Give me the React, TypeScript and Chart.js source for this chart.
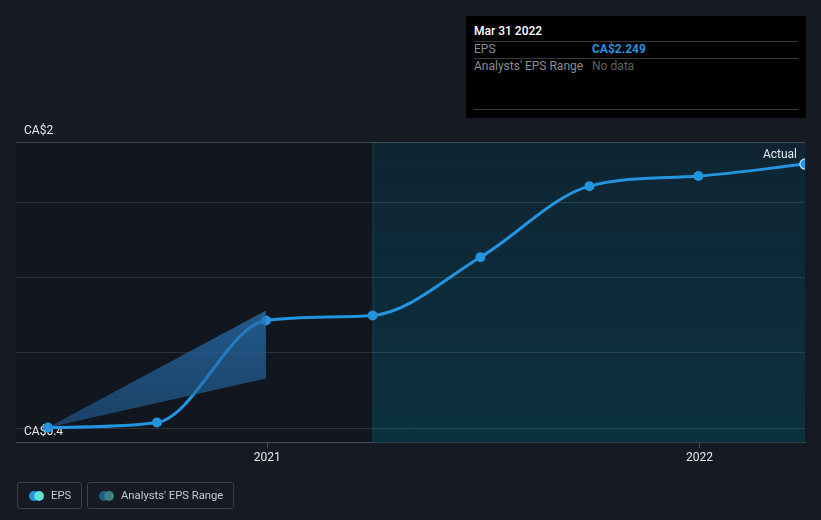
import React, { useEffect, useRef } from "react";
import { Chart, registerables } from "chart.js";

Chart.register(...registerables);

// ---- data ----
const epsDates = [
  Date.UTC(2020, 5, 30),
  Date.UTC(2020, 8, 30),
  Date.UTC(2020, 11, 31),
  Date.UTC(2021, 2, 31),
  Date.UTC(2021, 5, 30),
  Date.UTC(2021, 8, 30),
  Date.UTC(2021, 11, 31),
  Date.UTC(2022, 2, 31),
];
const epsValues = [0.4, 0.435, 1.152, 1.187, 1.595, 2.094, 2.165, 2.249];

const rangeDates = [Date.UTC(2020, 5, 30), Date.UTC(2020, 11, 31)];
const rangeHigh = [0.4, 1.222];
const rangeLow = [0.4, 0.745];

const xTickDates = [Date.UTC(2021, 0, 1), Date.UTC(2022, 0, 1)];
const xTickLabels = ["2021", "2022"];
const yGridValues = [0.4, 0.927, 1.455, 1.982];
const yAxisLabels = ["CA$2", "CA$0.4"];

const xMin = Date.UTC(2020, 5, 3);
const xMax = Date.UTC(2022, 2, 31);
const yMin = 0.2945;
const yMax = 2.404;
const highlightStart = Date.UTC(2021, 2, 31);

const FONT = "Roboto, 'Noto Sans', sans-serif";

const bgPlugin = {
  id: "bgPlugin",
  beforeDatasetsDraw(chart: any) {
    const { ctx, chartArea, scales } = chart;
    const x = scales.x;
    const hx = x.getPixelForValue(highlightStart);
    ctx.save();
    ctx.fillStyle = "rgba(0,0,0,0.13)";
    ctx.fillRect(chartArea.left, chartArea.top, hx - chartArea.left, chartArea.bottom - chartArea.top);
    const g = ctx.createLinearGradient(0, chartArea.top, 0, chartArea.bottom);
    g.addColorStop(0, "#0f2532");
    g.addColorStop(1, "#0b3141");
    ctx.fillStyle = g;
    ctx.fillRect(hx, chartArea.top, chartArea.right - hx, chartArea.bottom - chartArea.top);
    ctx.fillStyle = "rgba(40,110,120,0.35)";
    ctx.fillRect(hx, chartArea.top, 1, chartArea.bottom - chartArea.top);
    const y = scales.y;
    ctx.lineWidth = 1;
    for (const v of yGridValues) {
      const py = Math.round(y.getPixelForValue(v)) + 0.5;
      ctx.strokeStyle = "rgba(255,255,255,0.11)";
      ctx.beginPath();
      ctx.moveTo(chartArea.left, py);
      ctx.lineTo(chartArea.right, py);
      ctx.stroke();
    }
    const ty = Math.round(chartArea.top) + 0.5;
    ctx.strokeStyle = "rgba(255,255,255,0.2)";
    ctx.beginPath();
    ctx.moveTo(chartArea.left, ty);
    ctx.lineTo(chartArea.right, ty);
    ctx.stroke();
    ctx.fillStyle = "#e6e8eb";
    ctx.font = `12px ${FONT}`;
    ctx.textAlign = "left";
    ctx.textBaseline = "bottom";
    ctx.fillText(yAxisLabels[0], chartArea.left + 8, chartArea.top - 5);
    ctx.fillText(yAxisLabels[1], chartArea.left + 8, chartArea.bottom - 5);
    ctx.restore();
  },
  afterDatasetsDraw(chart: any) {
    const { ctx } = chart;
    const meta = chart.getDatasetMeta(2);
    const last = meta.data[meta.data.length - 1];
    if (!last) return;
    ctx.save();
    ctx.fillStyle = "#e6e8eb";
    ctx.font = `12px ${FONT}`;
    ctx.textAlign = "right";
    ctx.textBaseline = "bottom";
    ctx.fillText("Actual", last.x - 8, last.y - 3);
    ctx.restore();
  },
};

function ChartView() {
  const ref = useRef<HTMLCanvasElement | null>(null);
  useEffect(() => {
    const canvas = ref.current!;
    const ctx = canvas.getContext("2d")!;
    const bandGrad = ctx.createLinearGradient(0, 300, 0, 430);
    bandGrad.addColorStop(0, "rgba(40,115,180,0.75)");
    bandGrad.addColorStop(1, "rgba(35,100,160,0.55)");
    const chart = new Chart(canvas, {
      type: "line",
      data: {
        datasets: [
          {
            data: rangeDates.map((d, i) => ({ x: d, y: rangeHigh[i] })),
            borderWidth: 0,
            pointRadius: 0,
            tension: 0,
            fill: "+1",
            backgroundColor: bandGrad,
            borderColor: "rgba(0,0,0,0)",
          },
          {
            data: rangeDates.map((d, i) => ({ x: d, y: rangeLow[i] })),
            borderWidth: 0,
            pointRadius: 0,
            tension: 0,
            fill: false,
            borderColor: "rgba(0,0,0,0)",
          },
          {
            data: epsDates.map((d, i) => ({ x: d, y: epsValues[i] })),
            borderColor: "#2394df",
            backgroundColor: "#2394df",
            borderWidth: 3,
            cubicInterpolationMode: "monotone",
            pointRadius: 5,
            pointBackgroundColor: "#2394df",
            pointBorderColor: epsValues.map((_, i) => (i === epsValues.length - 1 ? "#9fd6ff" : "#2394df")),
            pointBorderWidth: epsValues.map((_, i) => (i === epsValues.length - 1 ? 1.5 : 0)),
            fill: false,
            clip: 0,
          } as any,
        ],
      },
      options: {
        animation: false,
        responsive: false,
        maintainAspectRatio: false,
        layout: { padding: { left: 16, right: 16, top: 142, bottom: 52 } },
        plugins: { legend: { display: false }, tooltip: { enabled: false } },
        events: [],
        scales: {
          x: {
            type: "linear",
            min: xMin,
            max: xMax,
            afterBuildTicks(axis: any) {
              axis.ticks = xTickDates.map((v) => ({ value: v }));
            },
            ticks: {
              autoSkip: false,
              maxRotation: 0,
              padding: 3,
              color: "#e6e8eb",
              font: { family: FONT, size: 12 },
              callback(value: any) {
                const i = xTickDates.indexOf(Number(value));
                return i >= 0 ? xTickLabels[i] : "";
              },
            },
            grid: {
              drawOnChartArea: false,
              drawTicks: true,
              tickLength: 5,
              color: "rgba(255,255,255,0.25)",
            },
            border: { display: true, color: "rgba(255,255,255,0.28)", width: 1 },
          },
          y: {
            type: "linear",
            min: yMin,
            max: yMax,
            display: true,
            ticks: { display: false },
            grid: { display: false, drawTicks: false },
            border: { display: false },
          },
        },
      },
      plugins: [bgPlugin],
    } as any);
    return () => chart.destroy();
  }, []);
  return <canvas ref={ref} width={821} height={520} style={{ display: "block", width: 821, height: 520 }} />;
}

const legendBox: React.CSSProperties = {
  position: "absolute",
  top: 482,
  height: 27,
  border: "1px solid #3b404a",
  borderRadius: 3,
  boxSizing: "border-box",
  display: "flex",
  alignItems: "center",
  color: "#c9ccd1",
  fontSize: 11.25,
  fontFamily: FONT,
  whiteSpace: "nowrap",
};

function Dots({ a, b }: { a: string; b: string }) {
  return (
    <span style={{ position: "relative", width: 16, height: 10, display: "inline-block", marginLeft: 11, marginRight: 6, flex: "0 0 auto" }}>
      <span style={{ position: "absolute", left: 0, top: 0, width: 10, height: 10, borderRadius: 5, background: a }} />
      <span style={{ position: "absolute", left: 5, top: 0, width: 10, height: 10, borderRadius: 5, background: b }} />
    </span>
  );
}

export default function App() {
  useEffect(() => {
    document.body.style.margin = "0";
    document.body.style.background = "#151a23";
  }, []);
  return (
    <div style={{ position: "relative", width: 821, height: 520, background: "#151a23", overflow: "hidden" }}>
      <ChartView />
      <div
        style={{
          position: "absolute",
          left: 466,
          top: 16,
          width: 340,
          height: 102,
          background: "#000",
          fontFamily: FONT,
          fontSize: 12,
          boxSizing: "border-box",
        }}
      >
        <div style={{ position: "absolute", left: 8, top: 8, color: "#fff", fontWeight: 500 }}>Mar 31 2022</div>
        <div style={{ position: "absolute", left: 8, right: 8, top: 25, borderTop: "1px solid #3a3a3a" }} />
        <div style={{ position: "absolute", left: 8, top: 26, color: "#8a8d92" }}>EPS</div>
        <div style={{ position: "absolute", left: 126, top: 26, color: "#2394df", fontWeight: 700 }}>CA$2.249</div>
        <div style={{ position: "absolute", left: 8, right: 8, top: 42, borderTop: "1px solid #3a3a3a" }} />
        <div style={{ position: "absolute", left: 8, top: 43, color: "#8a8d92" }}>Analysts' EPS Range</div>
        <div style={{ position: "absolute", left: 126, top: 43, color: "#5d6066" }}>No data</div>
        <div style={{ position: "absolute", left: 8, right: 8, top: 93, borderTop: "1px solid #3a3a3a" }} />
      </div>
      <div style={{ ...legendBox, left: 17, width: 65 }}>
        <Dots a="#2394df" b="#5ee0d6" />
        <span>EPS</span>
      </div>
      <div style={{ ...legendBox, left: 87, width: 147 }}>
        <Dots a="#1e5b8c" b="#3c8080" />
        <span>Analysts' EPS Range</span>
      </div>
    </div>
  );
}
